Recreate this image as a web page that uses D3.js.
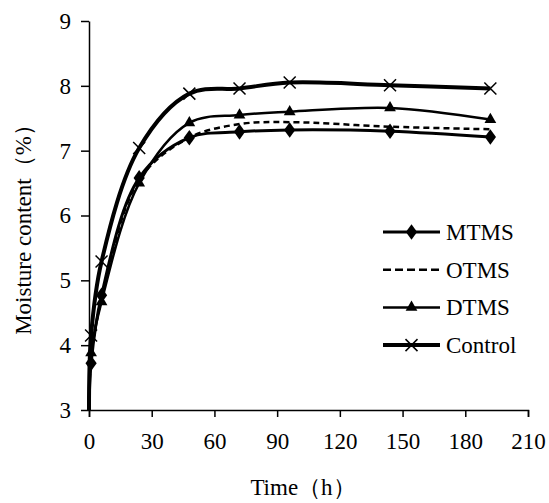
<!DOCTYPE html>
<html>
<head>
<meta charset="utf-8">
<script src="https://d3js.org/d3.v7.min.js"></script>
</head>
<body style="margin:0">
<script>
// data
var hours = [0, 1, 6, 24, 48, 72, 96, 144, 192];
var mtms = [3.0, 3.72, 4.77, 6.58, 7.2, 7.29, 7.32, 7.30, 7.21];
var otms = [3.0, 3.8, 4.72, 6.55, 7.2, 7.41, 7.44, 7.37, 7.33];
var dtms = [3.0, 3.88, 4.67, 6.5, 7.43, 7.55, 7.6, 7.66, 7.48];
var control = [3.0, 4.15, 5.29, 7.04, 7.88, 7.96, 8.05, 8.01, 7.96];
var xTicks = [0, 30, 60, 90, 120, 150, 180, 210];
var yTicks = [3, 4, 5, 6, 7, 8, 9];

var series = [
  { name: 'MTMS', values: mtms, marker: 'diamond', width: 3, dash: null },
  { name: 'OTMS', values: otms, marker: null, width: 2.5, dash: '6,4' },
  { name: 'DTMS', values: dtms, marker: 'triangle', width: 2.5, dash: null },
  { name: 'Control', values: control, marker: 'cross', width: 4, dash: null }
];

var FONT = '"Tinos", "Liberation Serif", "FreeSerif", "Times", serif';
var W = 549, H = 503;
var LEFT = 89, TOP = 21, RIGHT = 528, BOTTOM = 410;

var svg = d3.select('body').append('svg')
  .attr('width', W)
  .attr('height', H)
  .style('font-family', FONT);

var x = d3.scaleLinear().domain([0, 210]).range([LEFT, RIGHT]);
var y = d3.scaleLinear().domain([3, 9]).range([BOTTOM, TOP]);

function styleAxis(g) {
  g.attr('font-family', null).attr('font-size', null);
  g.selectAll('path, line').attr('stroke', '#000').attr('stroke-width', 1.5);
  g.selectAll('text')
    .style('font-family', FONT)
    .style('font-size', '23px')
    .attr('fill', '#000');
}

// axes
svg.append('g')
  .attr('transform', 'translate(0,' + BOTTOM + ')')
  .call(d3.axisBottom(x).tickValues(xTicks).tickFormat(d3.format('d'))
    .tickSize(7).tickSizeOuter(7).tickPadding(16))
  .call(styleAxis);

svg.append('g')
  .attr('transform', 'translate(' + LEFT + ',0)')
  .call(d3.axisLeft(y).tickValues(yTicks).tickFormat(d3.format('d'))
    .tickSize(8).tickSizeOuter(0).tickPadding(10))
  .call(styleAxis);

// axis titles
svg.append('text')
  .attr('x', 303)
  .attr('y', 495)
  .attr('text-anchor', 'middle')
  .style('font-family', FONT)
  .style('font-size', '23px')
  .text('Time（h）');

svg.append('text')
  .attr('transform', 'translate(31,224) rotate(-90)')
  .attr('text-anchor', 'middle')
  .style('font-family', FONT)
  .style('font-size', '23px')
  .text('Moisture content（%）');

var line = d3.line()
  .x(function(d, i) { return x(hours[i]); })
  .y(function(d) { return y(d); })
  .curve(d3.curveCatmullRom.alpha(0.5));

function drawMarker(g, type, cx, cy) {
  if (type === 'diamond') {
    g.append('path')
      .attr('d', d3.symbol().type(d3.symbolDiamond).size(70)())
      .attr('transform', 'translate(' + cx + ',' + cy + ') scale(1.25,1)')
      .attr('fill', '#000');
  } else if (type === 'triangle') {
    g.append('path')
      .attr('d', d3.symbol().type(d3.symbolTriangle).size(60)())
      .attr('transform', 'translate(' + cx + ',' + cy + ')')
      .attr('fill', '#000');
  } else if (type === 'cross') {
    var s = 6;
    g.append('path')
      .attr('d', 'M' + (cx - s) + ',' + (cy - s) + 'L' + (cx + s) + ',' + (cy + s) +
                 'M' + (cx - s) + ',' + (cy + s) + 'L' + (cx + s) + ',' + (cy - s))
      .attr('stroke', '#000')
      .attr('stroke-width', 1.5)
      .attr('fill', 'none');
  }
}

var plot = svg.append('g');
series.forEach(function(s) {
  plot.append('path')
    .datum(s.values)
    .attr('d', line)
    .attr('fill', 'none')
    .attr('stroke', '#000')
    .attr('stroke-width', s.width)
    .attr('stroke-dasharray', s.dash);
  if (s.marker) {
    s.values.forEach(function(v, i) {
      if (i === 0) return;
      drawMarker(plot, s.marker, x(hours[i]), y(v));
    });
  }
});

// legend
var legend = svg.append('g');
series.forEach(function(s, i) {
  var ly = 232 + i * 37.7;
  legend.append('line')
    .attr('x1', 383).attr('x2', 440)
    .attr('y1', ly).attr('y2', ly)
    .attr('stroke', '#000')
    .attr('stroke-width', s.width)
    .attr('stroke-dasharray', s.dash ? '8,4' : null);
  if (s.marker) drawMarker(legend, s.marker, 411.5, ly);
  legend.append('text')
    .attr('x', 446)
    .attr('y', ly + 8)
    .style('font-family', FONT)
    .style('font-size', '23px')
    .text(s.name);
});
</script>
</body>
</html>
